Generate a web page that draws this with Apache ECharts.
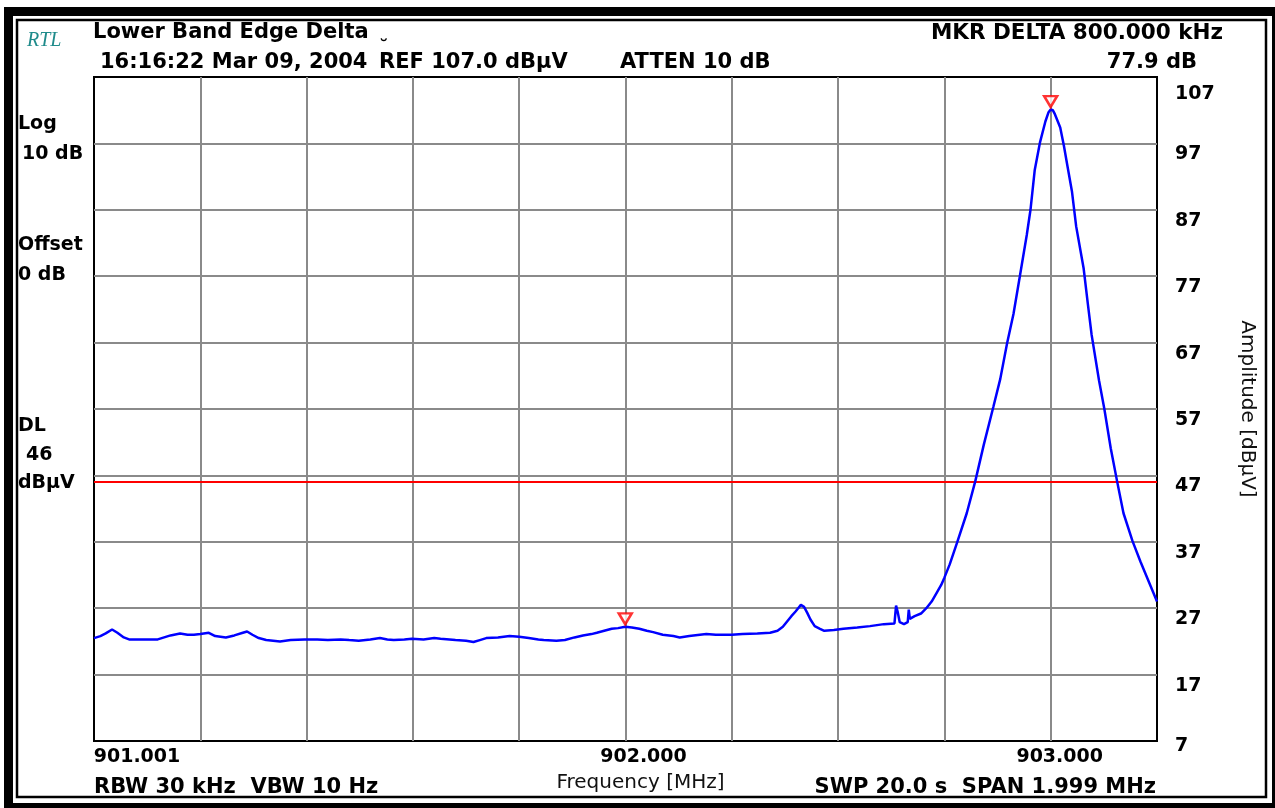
<!DOCTYPE html>
<html>
<head>
<meta charset="utf-8">
<title>Lower Band Edge Delta</title>
<script src="https://cdn.jsdelivr.net/npm/echarts@6/dist/echarts.min.js"></script>
<style>
  html, body { margin: 0; padding: 0; background: #ffffff; }
  #chart { width: 1275px; height: 808px; }
</style>
</head>
<body>
<div id="chart"></div>
<script>
// Sweep settings
const refLevel = 107;          // dBµV at the top graticule line
const startMHz = 901.001;      // left edge of the sweep
const spanMHz = 1.999;         // sweep span
const displayLine = 46;        // DL limit, dBµV

// Graticule labels, one per vertical division (blank = unlabelled)
const freqTickLabels = ['901.001', '', '', '', '', '902.000', '', '', '', '903.000', ''];

// Measured trace: frequency (MHz) and level (dBµV)
const traceFreqMHz = [
  901.0010, 901.0130, 901.0230, 901.0350, 901.0450, 901.0570, 901.0670, 901.0910,
  901.1209, 901.1329, 901.1449, 901.1629, 901.1769, 901.1889, 901.2009, 901.2169,
  901.2289, 901.2489, 901.2649, 901.2809, 901.2889, 901.2989, 901.3108, 901.3248,
  901.3508, 901.3708, 901.3968, 901.4208, 901.4408, 901.4648, 901.4808, 901.4988,
  901.5207, 901.5387, 901.5527, 901.5647, 901.5847, 901.5987, 901.6207, 901.6407,
  901.6527, 901.6807, 901.7007, 901.7146, 901.7266, 901.7386, 901.7606, 901.7826,
  901.8006, 901.8186, 901.8366, 901.8466, 901.8706, 901.8866, 901.9045, 901.9205,
  901.9365, 901.9465, 901.9605, 901.9745, 901.9865, 902.0000, 902.0125, 902.0265,
  902.0405, 902.0525, 902.0705, 902.0905, 902.1025, 902.1204, 902.1404, 902.1524,
  902.1704, 902.2004, 902.2204, 902.2484, 902.2724, 902.2864, 902.2964, 902.3044,
  902.3124, 902.3203, 902.3263, 902.3303, 902.3363, 902.3423, 902.3483, 902.3563,
  902.3663, 902.3743, 902.3923, 902.4103, 902.4363, 902.4603, 902.4863, 902.5063,
  902.5093, 902.5122, 902.5162, 902.5242, 902.5312, 902.5332, 902.5352, 902.5442,
  902.5562, 902.5662, 902.5762, 902.5862, 902.5942, 902.6002, 902.6102, 902.6242,
  902.6422, 902.6582, 902.6742, 902.6922, 902.7052, 902.7181, 902.7301, 902.7421,
  902.7551, 902.7621, 902.7701, 902.7801, 902.7901, 902.7961, 902.8000, 902.8040,
  902.8080, 902.8180, 902.8250, 902.8300, 902.8400, 902.8480, 902.8620, 902.8700,
  902.8770, 902.8910, 902.9010, 902.9130, 902.9250, 902.9370, 902.9540, 902.9690,
  902.9850, 903.0000
];
const traceLevelDbuv = [
  22.5, 22.8, 23.2, 23.8, 23.3, 22.6, 22.3, 22.3,
  22.3, 22.6, 22.9, 23.2, 23.0, 23.0, 23.1, 23.3,
  22.8, 22.6, 22.9, 23.3, 23.5, 23.0, 22.5, 22.2,
  22.0, 22.2, 22.3, 22.3, 22.2, 22.3, 22.2, 22.1,
  22.3, 22.5, 22.3, 22.2, 22.3, 22.4, 22.3, 22.5,
  22.4, 22.2, 22.1, 21.9, 22.2, 22.5, 22.6, 22.8,
  22.7, 22.5, 22.3, 22.2, 22.1, 22.2, 22.6, 22.9,
  23.1, 23.3, 23.6, 23.9, 24.0, 24.2, 24.1, 23.9,
  23.6, 23.4, 23.0, 22.8, 22.6, 22.8, 23.0, 23.1,
  23.0, 23.0, 23.1, 23.2, 23.3, 23.6, 24.2, 25.0,
  25.8, 26.5, 27.1, 27.5, 27.2, 26.3, 25.3, 24.3,
  23.9, 23.6, 23.7, 23.9, 24.1, 24.3, 24.6, 24.7,
  27.4, 26.5, 24.9, 24.6, 24.9, 26.8, 25.4, 25.8,
  26.2, 27.0, 28.0, 29.4, 30.5, 31.6, 33.6, 36.9,
  41.3, 46.1, 51.6, 57.3, 61.5, 66.9, 71.3, 77.0,
  83.2, 87.0, 93.0, 97.2, 100.3, 101.7, 102.1, 102.0,
  101.4, 99.4, 96.6, 94.3, 89.8, 84.5, 78.2, 72.8,
  68.2, 61.3, 57.0, 51.1, 46.1, 41.3, 37.1, 34.0,
  30.9, 28.0
];

// Markers: marker 1 on the band edge, delta marker on the carrier peak
const markerFreqMHz = [902.000, 902.800];
const markerLevelDbuv = [24.2, 102.1];

// Header / footer annotation text
const titleText = 'Lower Band Edge Delta';
const dateText = '16:16:22 Mar 09, 2004';
const refText = 'REF 107.0 dBµV';
const attenText = 'ATTEN 10 dB';
const mkrText = 'MKR DELTA 800.000 kHz';
const mkrDeltaText = '77.9 dB';
const bwText = 'RBW 30 kHz  VBW 10 Hz';
const sweepText = 'SWP 20.0 s  SPAN 1.999 MHz';
const sideText = [['Log', 0], ['10 dB', 1], ['Offset', 0], ['0 dB', 0], ['DL', 0], ['46', 2], ['dBµV', 0]];

// ---- derived values for the axes ----
const spanKHz = Math.round(spanMHz * 1000);
const divKHz = spanKHz / 10;
const toX = f => Math.round((f - startMHz) * 1e6) / 1000;   // kHz from sweep start
const toY = l => l - refLevel;                              // dB relative to reference

const traceData = traceFreqMHz.map((f, i) => [toX(f), toY(traceLevelDbuv[i])]);
const markerData = markerFreqMHz.map((f, i) => [toX(f), toY(markerLevelDbuv[i])]);

const FONT = '"DejaVu Sans"';
const BOLD = 'bold 21px ' + FONT;
const SMALL_BOLD = 'bold 19px ' + FONT;
const labelFont = { fontFamily: 'DejaVu Sans', fontWeight: 'bold', fontSize: 19, color: '#000' };

function txt(text, x, y, font, align, fill) {
  return {
    type: 'text', silent: true, z: 10,
    style: {
      text: text, x: x, y: y, font: font || BOLD, fill: fill || '#000',
      align: align || 'left', textAlign: align || 'left',
      verticalAlign: 'middle', textVerticalAlign: 'middle'
    }
  };
}

const sideY = [124, 154, 245, 275, 426, 455, 483];
const graphics = [
  // instrument frame
  { type: 'rect', silent: true, shape: { x: 8.5, y: 11.5, width: 1268, height: 796 },
    style: { fill: 'none', stroke: '#000', lineWidth: 9 } },
  { type: 'rect', silent: true, shape: { x: 17, y: 20, width: 1249, height: 777 },
    style: { fill: 'none', stroke: '#000', lineWidth: 2.5 } },
  txt('RTL', 27, 41, 'italic 20px "Liberation Serif"', 'left', '#1f8b8b'),
  txt(titleText, 93, 33),
  txt('˘', 379, 49, SMALL_BOLD),
  txt(dateText, 100, 63),
  txt(refText, 379, 63),
  txt(attenText, 620, 63),
  txt(mkrText, 1223, 33, 'bold 21.5px ' + FONT, 'right'),
  txt(mkrDeltaText, 1197, 63, BOLD, 'right'),
  txt(bwText, 94, 788),
  txt(sweepText, 1156, 788, BOLD, 'right')
];
sideText.forEach(([t, indent], i) => {
  graphics.push(txt(t, 18 + indent * 4, sideY[i], SMALL_BOLD));
});

const tickPad = { 0: 86, 5: 36, 9: 18 };
const xRich = {};
Object.keys(tickPad).forEach(k => {
  xRich['t' + k] = Object.assign({ padding: [0, 0, 0, tickPad[k]] }, labelFont);
});

const chart = echarts.init(document.getElementById('chart'), null, { renderer: 'canvas' });
chart.setOption({
  animation: false,
  backgroundColor: '#ffffff',
  graphic: graphics,
  grid: {
    left: 94, top: 77, width: 1063, height: 664,
    show: true, borderColor: '#000', borderWidth: 2, backgroundColor: '#ffffff'
  },
  xAxis: {
    type: 'value', min: 0, max: spanKHz, interval: divKHz,
    axisLine: { show: false }, axisTick: { show: false },
    splitLine: { show: true, showMinLine: false, showMaxLine: false,
      lineStyle: { color: '#8a8a8a', width: 2 } },
    axisLabel: Object.assign({
      margin: 7,
      formatter: v => {
        const i = Math.round(v / divKHz);
        const t = freqTickLabels[i];
        return t ? '{t' + i + '|' + t + '}' : '';
      },
      rich: xRich
    }, labelFont),
    name: 'Frequency [MHz]', nameLocation: 'middle', nameGap: 32,
    nameTextStyle: { fontFamily: 'DejaVu Sans', fontSize: 20, color: '#111', padding: [0, 0, 0, 30] }
  },
  yAxis: {
    type: 'value', position: 'right', min: -100, max: 0, interval: 10,
    axisLine: { show: false }, axisTick: { show: false },
    splitLine: { show: true, showMinLine: false, showMaxLine: false,
      lineStyle: { color: '#8a8a8a', width: 2 } },
    axisLabel: Object.assign({
      margin: 18, align: 'left',
      formatter: v => {
        const lvl = Math.round(refLevel + v);
        const s = v === 0 ? 'top' : (v === -100 ? 'bot' : 'mid');
        return '{' + s + '|' + lvl + '}';
      },
      rich: {
        top: Object.assign({ padding: [34, 0, 0, 0] }, labelFont),
        mid: Object.assign({ padding: [22, 0, 0, 0] }, labelFont),
        bot: Object.assign({ padding: [10, 0, 0, 0] }, labelFont)
      }
    }, labelFont),
    name: 'Amplitude [dBµV]', nameLocation: 'middle', nameRotate: -90, nameGap: 80,
    nameTextStyle: { fontFamily: 'DejaVu Sans', fontSize: 20, color: '#111' }
  },
  series: [
    {
      type: 'line', data: traceData, showSymbol: false, silent: true, z: 5,
      lineStyle: { color: '#0000ff', width: 2.5 },
      markLine: {
        silent: true, symbol: 'none', label: { show: false },
        lineStyle: { color: '#ff0000', width: 2, type: 'solid' },
        data: [{ yAxis: toY(displayLine) }]
      }
    },
    {
      type: 'scatter', data: markerData, silent: true, z: 6,
      symbol: 'triangle', symbolRotate: 180, symbolSize: [13, 11], symbolOffset: [0, -8],
      itemStyle: { color: '#ffffff', borderColor: '#ff0000', borderWidth: 2.5 }
    }
  ]
});
</script>
</body>
</html>
